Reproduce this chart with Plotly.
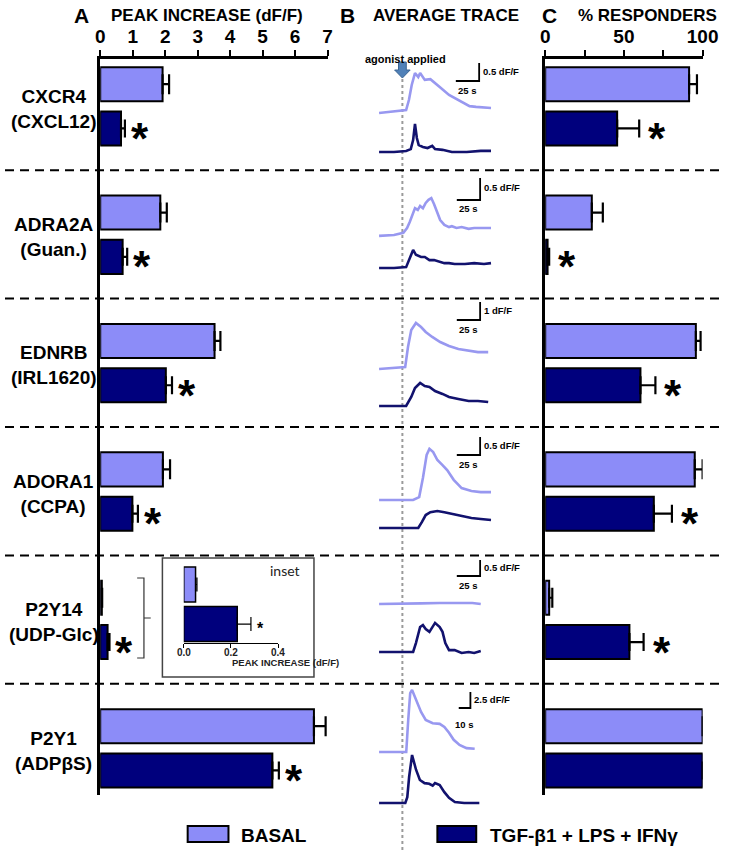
import plotly.graph_objects as go

# ---------------- data ----------------
receptors = ["CXCR4", "ADRA2A", "EDNRB", "ADORA1", "P2Y14", "P2Y1"]
agonists = ["(CXCL12)", "(Guan.)", "(IRL1620)", "(CCPA)", "(UDP-Glc)", "(ADPβS)"]

peak_basal = [1.92, 1.85, 3.52, 1.93, 0.05, 6.58]
peak_basal_err = [0.20, 0.20, 0.18, 0.22, 0.01, 0.36]
peak_treated = [0.64, 0.69, 2.02, 0.99, 0.227, 5.30]
peak_treated_err = [0.12, 0.14, 0.19, 0.17, 0.058, 0.20]
peak_sig = [True, True, True, True, True, True]
peak_ticks = [0, 1, 2, 3, 4, 5, 6, 7]

resp_basal = [91.4, 29.6, 95.7, 95.0, 2.5, 100.0]
resp_basal_err = [5.0, 7.0, 3.0, 5.0, 2.0, 0.0]
resp_treated = [45.7, 1.5, 60.5, 69.0, 53.5, 100.0]
resp_treated_err = [14.0, 1.0, 9.5, 11.5, 9.0, 0.0]
resp_sig = [True, True, True, True, True, False]
resp_tick_vals = [0, 25, 50, 75, 100]
resp_tick_text = ["0", "", "50", "", "100"]

inset_values = [0.05, 0.227]
inset_err = [0.006, 0.058]
inset_tick_vals = [0, 0.2, 0.4]
inset_tick_text = ["0.0", "0.2", "0.4"]

cxcr4_basal_t = [-25, -15, -4, 4, 7, 10, 13.5, 17, 19, 24, 30, 34, 40, 50, 63, 72, 79, 95]
cxcr4_basal_dff = [0, 0.03, 0.06, 0.08, 0.36, 0.78, 1.11, 1.0, 1.11, 0.92, 0.94, 0.86, 0.72, 0.5, 0.31, 0.19, 0.17, 0.14]
cxcr4_treat_t = [-25, -9, 4, 9, 11.5, 13.5, 15.5, 17.5, 22, 27, 32, 35, 43, 53, 69, 84, 95]
cxcr4_treat_dff = [0, 0, 0.03, 0.08, 0.33, 0.78, 0.39, 0.19, 0.14, 0.11, 0.17, 0.08, 0.06, 0, 0, 0.03, 0.03]

adra2a_basal_t = [-25, -9, 1, 5, 8, 11.5, 13.5, 16.5, 19, 22, 25, 28, 31, 34, 37.5, 40.5, 45, 50, 53, 58, 63.5, 71, 77, 84, 95]
adra2a_basal_dff = [-0.02, 0, 0.05, 0.16, 0.3, 0.5, 0.61, 0.57, 0.66, 0.61, 0.73, 0.8, 0.84, 0.7, 0.52, 0.34, 0.23, 0.18, 0.2, 0.16, 0.18, 0.14, 0.16, 0.16, 0.16]
adra2a_treat_t = [-25, -9, 4, 7, 11.5, 14.5, 20, 24, 29, 34, 40, 45, 50, 56, 67, 77, 87.5, 95]
adra2a_treat_dff = [0, 0, 0.02, 0.18, 0.41, 0.3, 0.25, 0.25, 0.18, 0.18, 0.14, 0.11, 0.11, 0.09, 0.09, 0.11, 0.09, 0.11]

ednrb_basal_t = [-25, -9, 3, 6, 9.5, 14.5, 20, 25, 32, 40.5, 50, 60, 71, 81, 92]
ednrb_basal_dff = [0, 0.06, 0.11, 1.22, 2.17, 2.56, 2.33, 2.06, 1.78, 1.5, 1.28, 1.11, 1.0, 0.94, 0.94]
ednrb_treat_t = [-25, 4, 9.5, 13.5, 19, 24, 29, 35, 43, 50, 60, 71, 81, 92]
ednrb_treat_dff = [0, 0, 0.5, 1.0, 1.28, 1.11, 1.06, 0.83, 0.67, 0.5, 0.39, 0.28, 0.28, 0.22]

adora1_basal_t = [-25, -9, 11.5, 18, 22, 26, 29, 33, 37.5, 43, 48, 55, 63.5, 74, 84, 95]
adora1_basal_dff = [0, 0, 0, 0.08, 0.61, 1.25, 1.42, 1.33, 1.11, 0.97, 0.83, 0.56, 0.33, 0.25, 0.22, 0.22]
adora1_treat_t = [-25, 17, 21, 25, 30, 37.5, 45, 53, 63.5, 74, 84, 95]
adora1_treat_dff = [0, 0, 0.17, 0.36, 0.44, 0.47, 0.44, 0.39, 0.33, 0.28, 0.25, 0.22]

p2y14_basal_t = [-25, 0, 20, 40, 60, 75, 84]
p2y14_basal_dff = [0, 0, 0.02, 0.03, 0.02, 0.03, 0]
p2y14_treat_t = [-25, 11.5, 14.5, 19, 22, 25, 29, 32, 35, 40, 43, 46, 50, 56, 63.5, 71, 77, 84]
p2y14_treat_dff = [0, 0, 0.28, 0.78, 0.84, 0.72, 0.63, 0.78, 0.91, 0.78, 0.63, 0.28, 0.06, 0.06, -0.03, 0, -0.03, 0.03]

p2y1_basal_t = [-20, 3.3, 5, 6.7, 8.3, 11.7, 16, 20, 26, 32, 36, 40, 44, 49, 55, 62]
p2y1_basal_dff = [0, 0, 5.0, 9.2, 9.7, 8.1, 6.25, 5.0, 4.5, 4.4, 3.9, 3.0, 1.9, 1.1, 0.6, 0.5]
p2y1_treat_t = [-20, 2.5, 4.2, 5.8, 8.3, 11.7, 15, 19, 23, 26, 28, 32, 36, 40, 45, 53, 66]
p2y1_treat_dff = [0, 0, 0.9, 4.1, 7.5, 5.2, 3.6, 3.1, 3.0, 2.7, 3.1, 2.8, 1.7, 0.8, 0.16, 0, 0]

scale_dff = [0.5, 0.5, 1, 0.5, 0.5, 2.5]
scale_sec = [25, 25, 25, 25, 25, 10]

legend_labels = ["BASAL", "TGF-β1 + LPS + IFNγ"]

# ---------------- layout helpers (pixels -> paper) ----------------
W, H = 740, 853
def fx(p):
    return p / W
def fy(p):
    return 1 - p / H

FONT = "Liberation Sans, Arial, Helvetica, sans-serif"
LIGHT = "#8C8CF8"
DARK = "#00007D"
LIGHT_LINE = "#9898F0"
DARK_LINE = "#12126E"

ROW0, ROWH = 106.0, 128.4
AX_TOP, AX_BOT = 59, 795
Y_RANGE = [(AX_BOT - ROW0) / ROWH, (AX_TOP - ROW0) / ROWH]
def row_px(v):
    return ROW0 + ROWH * v

groups = list(range(len(receptors)))
BW = 0.265
OFF_L, OFF_D = -0.3025, 0.0425
CEN_D = OFF_D + BW / 2

fig = go.Figure()

def add_bars(vals, errs, color, off, xa, ya, cap):
    fig.add_trace(go.Bar(
        x=vals, y=groups, orientation="h", width=BW, offset=off,
        marker=dict(color=color, line=dict(color="black", width=2)),
        error_x=dict(type="data", array=errs, arrayminus=[0] * len(errs), symmetric=False,
                     color="black", thickness=2.2, width=cap),
        xaxis=xa, yaxis=ya, hoverinfo="skip"))

add_bars(peak_basal, peak_basal_err, LIGHT, OFF_L, "x", "y", 10)
add_bars(peak_treated, peak_treated_err, DARK, OFF_D, "x", "y", 9)
add_bars(resp_basal, resp_basal_err, LIGHT, OFF_L, "x2", "y2", 10)
add_bars(resp_treated, resp_treated_err, DARK, OFF_D, "x2", "y2", 9)

fig.add_trace(go.Bar(
    x=inset_values, y=[0, 1], orientation="h", width=0.886,
    marker=dict(color=[LIGHT, DARK], line=dict(color="black", width=1.5)),
    error_x=dict(type="data", array=inset_err, arrayminus=[0, 0], symmetric=False,
                 color="black", thickness=1.2, width=7),
    xaxis="x15", yaxis="y15", hoverinfo="skip"))

layout = dict(
    width=W, height=H, margin=dict(l=0, r=0, t=0, b=0),
    paper_bgcolor="white", plot_bgcolor="rgba(0,0,0,0)", showlegend=False,
    font=dict(family=FONT, color="black"), barmode="overlay",
)

tickfont_big = dict(family=FONT, size=19, color="black", weight="bold")
layout["xaxis"] = dict(domain=[fx(98), fx(332)], range=[0, 7], side="top", anchor="y",
                       showline=True, linewidth=2.5, linecolor="black", ticks="outside",
                       ticklen=6, tickwidth=2, tickcolor="black", tickvals=peak_ticks,
                       tickfont=tickfont_big, showgrid=False, zeroline=False)
layout["yaxis"] = dict(domain=[fy(AX_BOT), fy(AX_TOP)], range=Y_RANGE, anchor="x",
                       showline=True, linewidth=2.5, linecolor="black", showticklabels=False,
                       ticks="", showgrid=False, zeroline=False)
layout["xaxis2"] = dict(domain=[fx(556), fx(718)], range=[0, 100], side="top", anchor="y2",
                        showline=True, linewidth=2.5, linecolor="black", ticks="outside",
                        ticklen=6, tickwidth=2, tickcolor="black", tickvals=resp_tick_vals,
                        ticktext=resp_tick_text, tickfont=tickfont_big, showgrid=False,
                        zeroline=False)
layout["yaxis2"] = dict(domain=[fy(AX_BOT), fy(AX_TOP)], range=Y_RANGE, anchor="x2",
                        showline=True, linewidth=2.5, linecolor="black", showticklabels=False,
                        ticks="", showgrid=False, zeroline=False)

layout["xaxis15"] = dict(domain=[fx(184), fx(281)], range=[0, 0.4], anchor="y15",
                         showline=True, linewidth=1.2, linecolor="black", ticks="outside",
                         ticklen=4, tickwidth=1.2, tickcolor="black", tickvals=inset_tick_vals,
                         showticklabels=False, showgrid=False, zeroline=False)
layout["yaxis15"] = dict(domain=[fy(643), fy(560)], range=[1.48, -0.62], anchor="x15",
                         visible=False)

traces_b = [
    (cxcr4_basal_t, cxcr4_basal_dff, cxcr4_treat_t, cxcr4_treat_dff),
    (adra2a_basal_t, adra2a_basal_dff, adra2a_treat_t, adra2a_treat_dff),
    (ednrb_basal_t, ednrb_basal_dff, ednrb_treat_t, ednrb_treat_dff),
    (adora1_basal_t, adora1_basal_dff, adora1_treat_t, adora1_treat_dff),
    (p2y14_basal_t, p2y14_basal_dff, p2y14_treat_t, p2y14_treat_dff),
    (p2y1_basal_t, p2y1_basal_dff, p2y1_treat_t, p2y1_treat_dff),
]
T0_PX = 409
PPS = [0.96, 0.96, 0.96, 0.96, 0.96, 1.2]
PPU = [36, 44, 18, 36, 32, 6.4]
BASE_L = [113, 235, 369, 500, 604, 752]
BASE_D = [152, 268, 406, 528, 652, 803]
SB_CORNER = [(488, 81), (489, 200), (489, 320), (489, 455), (489, 576), (479, 708)]
BX0, BX1 = 378, 505

shapes = []
annotations = []

for g in groups:
    bt, bd, tt, td = traces_b[g]
    top, bot = row_px(g) - 64, row_px(g) + 64
    for k, (tx, ty, base, col) in enumerate([(bt, bd, BASE_L[g], LIGHT_LINE),
                                              (tt, td, BASE_D[g], DARK_LINE)]):
        n = 3 + 2 * g + k
        layout[f"xaxis{n}"] = dict(domain=[fx(BX0), fx(BX1)],
                                   range=[(BX0 - T0_PX) / PPS[g], (BX1 - T0_PX) / PPS[g]],
                                   anchor=f"y{n}", visible=False)
        layout[f"yaxis{n}"] = dict(domain=[fy(bot), fy(top)],
                                   range=[(base - bot) / PPU[g], (base - top) / PPU[g]],
                                   anchor=f"x{n}", visible=False)
        fig.add_trace(go.Scatter(x=tx, y=ty, mode="lines",
                                 line=dict(color=col, width=2.6),
                                 xaxis=f"x{n}", yaxis=f"y{n}", hoverinfo="skip",
                                 cliponaxis=False))
    cx, cy = SB_CORNER[g]
    vlen = scale_dff[g] * PPU[g]
    hlen = scale_sec[g] * PPS[g]
    shapes.append(dict(type="path", xref="paper", yref="paper",
                       path=f"M {fx(cx - hlen)},{fy(cy)} L {fx(cx)},{fy(cy)} L {fx(cx)},{fy(cy - vlen)}",
                       line=dict(color="black", width=1.8)))
    annotations.append(dict(x=fx(cx + 2), y=fy(cy - vlen * 0.55), xref="paper", yref="paper",
                            text=f"<b>{scale_dff[g]:g} dF/F</b>", showarrow=False,
                            xanchor="left", yanchor="middle",
                            font=dict(family=FONT, size=9.5, color="black")))
    annotations.append(dict(x=fx(cx - hlen / 2), y=fy(cy + (16 if g == 5 else 9)),
                            xref="paper", yref="paper",
                            text=f"<b>{scale_sec[g]:g} s</b>", showarrow=False,
                            xanchor="center", yanchor="middle",
                            font=dict(family=FONT, size=9.5, color="black")))

shapes.append(dict(type="line", xref="x3", yref="paper", x0=0, x1=0, y0=fy(850), y1=fy(64),
                   line=dict(color="#9a9a9a", width=2, dash="dot"), layer="below"))
ax = 409
arrow = (f"M {fx(ax-4)},{fy(62)} L {fx(ax+4)},{fy(62)} L {fx(ax+4)},{fy(70)} "
         f"L {fx(ax+8)},{fy(70)} L {fx(ax)},{fy(78)} L {fx(ax-8)},{fy(70)} "
         f"L {fx(ax-4)},{fy(70)} Z")
shapes.append(dict(type="path", xref="paper", yref="paper", path=arrow,
                   fillcolor="#5081B8", line=dict(color="#3B6593", width=1)))
annotations.append(dict(x=fx(412), y=fy(51), xref="paper", yref="paper",
                        text="<b>agonist applied</b>", showarrow=False,
                        font=dict(family=FONT, size=11, color="black")))

for g in groups[:-1]:
    shapes.append(dict(type="line", xref="paper", yref="y", x0=0, x1=1, y0=g + 0.5, y1=g + 0.5,
                       line=dict(color="black", width=2, dash="9px,6px")))

shapes.append(dict(type="rect", xref="paper", yref="paper", x0=fx(162), x1=fx(318),
                   y0=fy(677), y1=fy(558), line=dict(color="#444", width=1.5)))
shapes.append(dict(type="path", xref="paper", yref="paper",
                   path=(f"M {fx(136)},{fy(578)} L {fx(143)},{fy(578)} L {fx(143)},{fy(658)} "
                         f"L {fx(136)},{fy(658)} M {fx(143)},{fy(618)} L {fx(150)},{fy(618)}"),
                   line=dict(color="#333", width=1.2)))
annotations.append(dict(x=fx(288), y=fy(581), xref="paper", yref="paper", text="inset",
                        showarrow=False, font=dict(family="Lato, Open Sans, sans-serif", size=14,
                                                   color="#222")))
for v, t in zip(inset_tick_vals, inset_tick_text):
    annotations.append(dict(x=v, y=fy(652), xref="x15", yref="paper", text=f"<b>{t}</b>",
                            showarrow=False, xanchor="center", yanchor="middle", borderpad=0,
                            font=dict(family=FONT, size=10, color="#222")))
annotations.append(dict(x=fx(233), y=fy(669), xref="paper", yref="paper",
                        text="<b>PEAK INCREASE (dF/F)</b>", showarrow=False, borderpad=0,
                        font=dict(family=FONT, size=9.5, color="#222")))
annotations.append(dict(x=inset_values[1] + inset_err[1], y=1, xref="x15", yref="y15",
                        text="<b>*</b>", showarrow=False, xanchor="center", xshift=10, yshift=-4,
                        font=dict(family=FONT, size=16, color="black")))

for g in groups:
    if peak_sig[g]:
        annotations.append(dict(x=peak_treated[g] + peak_treated_err[g], y=g + CEN_D,
                                xref="x", yref="y", text="<b>*</b>", showarrow=False,
                                xanchor="center", xshift=15, yshift=-10,
                                font=dict(family=FONT, size=44, color="black")))
    if resp_sig[g]:
        annotations.append(dict(x=resp_treated[g] + resp_treated_err[g], y=g + CEN_D,
                                xref="x2", yref="y2", text="<b>*</b>", showarrow=False,
                                xanchor="center", xshift=18, yshift=-10,
                                font=dict(family=FONT, size=44, color="black")))

for g in groups:
    annotations.append(dict(x=fx(50), y=g + 0.02, xref="paper", yref="y",
                            text=f"<b>{receptors[g]}<br>{agonists[g]}</b>", showarrow=False,
                            xanchor="center", yanchor="middle", align="center",
                            font=dict(family=FONT, size=19, color="black")))

for txt, x, size, anchor in [("A", 79, 21, "center"), ("PEAK INCREASE (dF/F)", 108, 17, "left"),
                              ("B", 353, 21, "center"), ("AVERAGE TRACE", 378, 17, "left"),
                              ("C", 560, 21, "center"), ("% RESPONDERS", 589, 17, "left")]:
    annotations.append(dict(x=fx(x), y=fy(16), xref="paper", yref="paper", text=f"<b>{txt}</b>",
                            showarrow=False, xanchor=anchor, yanchor="middle", borderpad=0,
                            font=dict(family=FONT, size=size, color="black")))

for (x0, x1, col, tx), lab in zip([(188, 230, LIGHT, 241), (445, 485, DARK, 497)], legend_labels):
    shapes.append(dict(type="rect", xref="paper", yref="paper", x0=fx(x0), x1=fx(x1),
                       y0=fy(842), y1=fy(826), fillcolor=col, line=dict(color="black", width=2)))
    annotations.append(dict(x=fx(tx), y=fy(835), xref="paper", yref="paper", text=f"<b>{lab}</b>",
                            showarrow=False, xanchor="left", yanchor="middle",
                            font=dict(family=FONT, size=19, color="black")))

layout["shapes"] = shapes
layout["annotations"] = annotations
fig.update_layout(**layout)
fig.write_html("out.html", config={"displayModeBar": False},
               post_script="document.body.style.margin='0px';"
                           "document.documentElement.style.overflow='hidden';")
